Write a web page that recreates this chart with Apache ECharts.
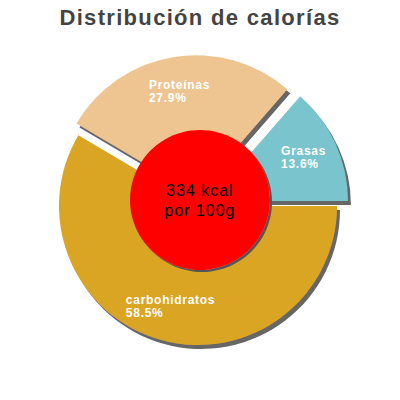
<!DOCTYPE html>
<html>
<head>
<meta charset="utf-8">
<script src="https://cdn.jsdelivr.net/npm/echarts@6/dist/echarts.min.js"></script>
<style>
html,body{margin:0;padding:0;background:#fff;}
#chart{width:400px;height:400px;}
#chart svg text{letter-spacing:0.06em;}
</style>
</head>
<body>
<div id="chart"></div>
<script>
var titleText = 'Distribución de calorías';
var categories = ['carbohidratos', 'Proteínas', 'Grasas'];
var percentages = [58.5, 27.9, 13.6];
var sliced = [false, true, true];
var colors = ['#DAA520', '#EEC591', '#7AC5CD'];
var energyKcal = 334;
var energyUnit = 'kcal';
var energyBasis = 'por 100g';

// text measurement that includes the same letter spacing as the CSS above
var SPACING_EM = 0.06;
var measureCtx = document.createElement('canvas').getContext('2d');
if (echarts.setPlatformAPI) {
  echarts.setPlatformAPI({
    measureText: function (text, font) {
      measureCtx.font = font || '12px sans-serif';
      var w = measureCtx.measureText(text).width;
      var m = /(\d+(?:\.\d+)?)px/.exec(font || '');
      var fs = m ? parseFloat(m[1]) : 12;
      return {width: w + SPACING_EM * fs * Array.from(text).length};
    }
  });
}

var chart = echarts.init(document.getElementById('chart'), null, {renderer: 'svg'});

function buildData() {
  return categories.map(function (c, i) {
    return {name: c, value: percentages[i], selected: sliced[i], itemStyle: {color: colors[i]}};
  });
}

var pieCenter = [198, 206];
var font = 'Liberation Sans, Arial, sans-serif';

var option = {
  animation: false,
  title: {
    text: titleText,
    left: 'center',
    top: 1,
    textStyle: {fontFamily: font, fontSize: 22, fontWeight: 'bold', color: '#444444'}
  },
  series: [
    {
      type: 'pie',
      center: pieCenter,
      radius: [0, 139],
      startAngle: 0,
      clockwise: true,
      selectedMode: 'multiple',
      selectedOffset: 12,
      silent: true,
      avoidLabelOverlap: false,
      label: {show: false},
      labelLine: {show: false},
      itemStyle: {
        borderWidth: 0,
        shadowColor: '#666666',
        shadowBlur: 0,
        shadowOffsetX: 3,
        shadowOffsetY: 4
      },
      select: {itemStyle: {borderWidth: 0}},
      emphasis: {disabled: true},
      data: buildData()
    },
    {
      type: 'pie',
      center: pieCenter,
      radius: [63, 139],
      startAngle: 0,
      clockwise: true,
      selectedMode: 'multiple',
      selectedOffset: 12,
      silent: true,
      avoidLabelOverlap: false,
      itemStyle: {color: 'transparent', borderWidth: 0},
      select: {itemStyle: {color: 'transparent', borderWidth: 0}},
      emphasis: {disabled: true},
      labelLine: {show: false},
      label: {
        show: true,
        position: 'inside',
        formatter: function (p) {
          return '{a|' + p.name + '}\n{a|' + p.value.toFixed(1) + '%}';
        },
        rich: {
          a: {
            width: '100%',
            align: 'left',
            color: '#ffffff',
            fontFamily: font,
            fontSize: 12,
            fontWeight: 'bold',
            lineHeight: 13
          }
        }
      },
      data: categories.map(function (c, i) {
        return {name: c, value: percentages[i], selected: sliced[i]};
      })
    },
    {
      type: 'pie',
      center: [200, 200],
      radius: [0, 70],
      silent: true,
      emphasis: {disabled: true},
      labelLine: {show: false},
      itemStyle: {
        color: '#FF0000',
        shadowColor: '#555555',
        shadowBlur: 0,
        shadowOffsetX: 2,
        shadowOffsetY: 2
      },
      label: {
        show: true,
        position: 'center',
        formatter: function (p) {
          return p.value + ' ' + energyUnit + '\n' + energyBasis;
        },
        color: '#000000',
        fontFamily: font,
        fontSize: 16,
        lineHeight: 20
      },
      data: [{name: 'energia', value: energyKcal}]
    }
  ]
};
chart.setOption(option);
</script>
</body>
</html>
